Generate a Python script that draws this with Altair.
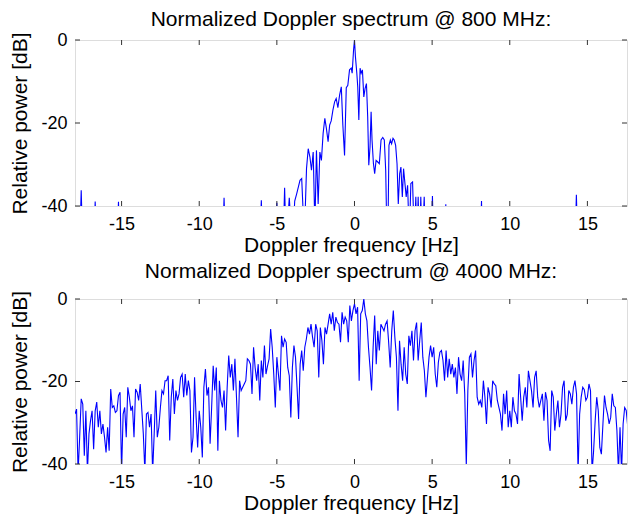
import altair as alt
import pandas as pd

TITLE_TOP = "Normalized Doppler spectrum @ 800 MHz:"
TITLE_BOTTOM = "Normalized Doppler spectrum @ 4000 MHz:"
X_TITLE = "Doppler frequency [Hz]"
Y_TITLE = "Relative power [dB]"
x_ticks = [-15, -10, -5, 0, 5, 10, 15]
y_ticks = [0, -20, -40]

# 800 MHz spectrum (values below -40 dB fall outside the axis)
top_freq = [
    -18.0, -17.7, -17.6, -17.5, -16.8, -16.7, -16.6, -15.3, -15.2, -15.1,
    -8.5, -8.4, -8.3, -6.1, -6.0, -5.9, -5.1, -5.0, -4.9, -4.6,
    -4.5, -4.4, -4.2, -4.0, -3.85,
    -3.72, -3.51, -3.40, -3.23, -3.09, -2.98, -2.87, -2.77, -2.66, -2.55,
    -2.45, -2.34, -2.23, -2.13, -2.02, -1.91, -1.81, -1.70, -1.60, -1.50,
    -1.39, -1.28, -1.18, -1.07, -0.96, -0.85, -0.75, -0.64, -0.53, -0.43,
    -0.32, -0.21, -0.15, -0.06, 0.0, 0.06, 0.15, 0.21, 0.28, 0.36,
    0.43, 0.51, 0.60, 0.68, 0.77, 0.85, 0.92, 1.00, 1.07, 1.13,
    1.22, 1.30, 1.39, 1.50, 1.60, 1.71, 1.82, 1.92, 2.01, 2.09,
    2.16, 2.22, 2.31, 2.39, 2.48, 2.56, 2.65, 2.74, 2.82, 2.91,
    2.99, 3.08, 3.16, 3.25, 3.33, 3.42, 3.53, 3.63, 3.74, 3.85,
    3.95, 4.02, 4.10, 4.19, 4.27, 4.36, 4.49, 4.57,
    4.95, 5.02, 5.10, 5.80, 5.88, 5.95, 8.10, 8.18, 8.25,
    14.20, 14.29, 14.38, 17.85,
]
top_db = [
    -50, -50, -36.2, -50, -50, -38.9, -50, -50, -39.0, -50,
    -50, -38.0, -50, -50, -38.6, -50, -50, -39.2, -50, -50,
    -35.6, -50, -38.0, -50, -38.8,
    -37.0, -33.8, -33.4, -48, -31.0, -26.2, -28.2, -31.4, -27.0, -45,
    -26.6, -39.5, -27.0, -29.0, -22.5, -18.9, -21.3, -24.5, -20.5, -19.5,
    -16.9, -14.9, -14.1, -16.3, -13.3, -11.3, -20.5, -27.8, -11.5, -10.9,
    -7.2, -6.8, -8.0, -2.4, 0.0, -4.0, -8.0, -11.3, -19.3, -6.8,
    -8.0, -7.2, -13.7, -11.7, -10.5, -18.5, -30.2, -25.8, -17.3, -24.1,
    -29.8, -32.2, -29.0, -29.4, -29.8, -24.1, -23.5, -24.1, -31.4, -48,
    -45, -25.4, -24.1, -25.0, -23.7, -24.1, -25.4, -29.8, -39.5, -32.2,
    -30.6, -37.8, -31.0, -34.6, -37.8, -35.0, -48, -34.6, -34.2, -48,
    -37.8, -50, -37.8, -50, -37.8, -50, -37.8, -50,
    -50, -37.6, -50, -50, -39.6, -50, -50, -38.8, -50,
    -50, -37.3, -50, -50,
]

# 4000 MHz spectrum, bins every 0.1 Hz starting at -18 Hz
bottom_start = -18.0
bottom_step = 0.1
bottom_db = [
    -27.9, -26.7, -42, -33.5, -24.2, -25.5, -38, -27.1, -42, -32.7,
    -29.5, -27.1, -36.4, -27.1, -25.0, -31.1, -27.1, -32.7, -30.3, -33.5,
    -37.2, -31.1, -36.8, -21.8, -26.3, -25.9, -27.5, -27.1, -23.4, -22.6,
    -42, -27.9, -26.3, -33.5, -21.4, -23.8, -27.1, -25.9, -33.5, -21.8,
    -22.6, -24.6, -20.6, -26.7, -32.7, -42, -27.9, -27.5, -31.1, -27.9,
    -42, -32.7, -22.2, -33.5, -31.1, -26.3, -22.2, -23.0, -19.8, -19.8,
    -18.6, -34.3, -23.8, -19.4, -27.9, -22.2, -24.6, -23.0, -19.0, -18.2,
    -23.8, -18.2, -23.4, -19.8, -22.2, -37.2, -33.5, -19.0, -28.7, -36.0,
    -27.1, -31.1, -38.4, -21.4, -17.0, -23.4, -21.4, -35.1, -26.3, -16.2,
    -22.2, -16.6, -36.8, -19.8, -24.6, -26.3, -22.2, -31.9, -21.4, -13.7,
    -19.0, -15.8, -22.2, -14.5, -23.8, -33.5, -19.8, -22.2, -21.4, -20.6,
    -19.8, -14.5, -14.9, -15.8, -23.0, -11.7, -16.6, -19.8, -15.8, -24.6,
    -14.9, -19.0, -11.3, -18.2, -16.2, -14.5, -7.3, -11.7, -18.2, -26.3,
    -14.1, -18.2, -22.2, -8.9, -11.7, -9.7, -10.5, -16.6, -18.6, -28.7,
    -16.6, -11.3, -14.1, -21.4, -29.1, -15.8, -12.5, -17.4, -11.7, -9.7,
    -6.9, -8.5, -6.1, -9.3, -11.7, -6.1, -7.7, -19.0, -6.9, -10.1,
    -15.8, -6.9, -8.5, -6.1, -3.6, -6.1, -3.2, -7.7, -4.4, -5.7,
    -6.1, -10.5, -3.2, -6.1, -4.4, -5.3, -10.5, -1.6, -5.3, -2.8,
    -1.2, -3.6, -2.0, -19.8, -3.6, -2.8, 0.0, -3.6, -5.3, -11.7,
    -16.6, -22.2, -11.7, -4.0, -15.8, -7.7, -12.5, -6.1, -6.9, -7.7,
    -6.1, -5.3, -10.5, -16.6, -7.7, -2.8, -9.3, -14.1, -27.1, -10.1,
    -15.8, -19.8, -11.7, -18.2, -20.6, -8.9, -11.3, -7.7, -14.9, -7.7,
    -5.7, -14.9, -10.1, -5.7, -14.1, -17.4, -23.8, -19.0, -14.1, -11.3,
    -14.1, -11.7, -18.2, -21.4, -15.4, -12.9, -12.5, -14.9, -19.8, -12.5,
    -19.0, -14.5, -18.2, -15.8, -19.0, -16.6, -23.0, -14.1, -18.2, -19.8,
    -14.9, -23.0, -40.5, -22.2, -14.1, -13.3, -19.0, -14.9, -12.5, -23.8,
    -25.5, -24.6, -26.3, -19.8, -23.8, -30.3, -21.4, -23.0, -26.3, -19.8,
    -20.6, -21.0, -24.6, -26.3, -27.9, -31.9, -23.0, -27.9, -22.2, -31.1,
    -27.1, -31.1, -23.8, -27.1, -27.9, -30.3, -18.2, -23.8, -29.5, -23.8,
    -21.4, -26.3, -17.4, -19.8, -22.2, -26.3, -19.0, -17.4, -23.8, -26.3,
    -24.6, -23.0, -29.5, -22.6, -24.6, -34.3, -36.8, -22.2, -23.8, -31.9,
    -27.9, -24.6, -31.1, -27.9, -21.4, -19.8, -29.5, -28.0, -22.2, -23.0,
    -25.5, -21.4, -19.8, -23.0, -42, -27.9, -23.8, -21.4, -22.0, -24.6,
    -23.8, -20.6, -22.2, -42, -36.8, -29.5, -23.8, -27.1, -36.0, -37.6,
    -30.3, -23.4, -26.3, -27.9, -30.3, -28.7, -23.0, -25.9, -26.3, -31.9,
    -42, -31.1, -42, -30.3, -26.3, -27.0, -31.0, -26.0, -29.0,
]
bottom_freq = [round(bottom_start + bottom_step * i, 2) for i in range(len(bottom_db))]

FONT = "Liberation Sans"
FRAME = "#333333"
LINE = "#0000ff"
W = 552
X_DOMAIN = [-18, 17.55]
HYPHEN = "datum.value + ''"


def panel(freq, db, title, h, title_offset):
    df = pd.DataFrame({"f": freq, "p": db})
    xs = alt.Scale(domain=X_DOMAIN, nice=False, zero=False)
    ys = alt.Scale(domain=[-40, 0], nice=False, zero=False)
    x_axis = alt.Axis(
        values=x_ticks, title=X_TITLE, ticks=False, tickSize=0, domain=False, grid=False,
        labelFont=FONT, labelFontSize=18, labelColor="black", labelPadding=23,
        labelBaseline="alphabetic", labelFlush=False, labelOverlap=False, labelExpr=HYPHEN,
        titleFont=FONT, titleFontSize=21, titleFontWeight="normal", titleColor="black",
        titleBaseline="alphabetic", titleX=W / 2, titleY=45,
    )
    y_axis = alt.Axis(
        values=y_ticks, title=Y_TITLE, ticks=False, tickSize=0, domain=False, grid=False,
        labelFont=FONT, labelFontSize=18, labelColor="black", labelPadding=8,
        labelFlush=False, labelOverlap=False, labelExpr=HYPHEN,
        titleFont=FONT, titleFontSize=21, titleFontWeight="normal", titleColor="black",
        titleBaseline="alphabetic", titleAngle=270, titleX=-49, titleY=h / 2,
    )
    line = alt.Chart(df).mark_line(color=LINE, strokeWidth=1.1, clip=True).encode(
        x=alt.X("f:Q", scale=xs, axis=x_axis, title=X_TITLE),
        y=alt.Y("p:Q", scale=ys, axis=y_axis, title=Y_TITLE),
    )
    xt = pd.DataFrame({"t": x_ticks})
    yt = pd.DataFrame({"t": y_ticks})
    rule = dict(color=FRAME, strokeWidth=1)
    tick_top = alt.Chart(xt).mark_rule(**rule).encode(
        x=alt.X("t:Q", scale=xs, axis=x_axis, title=X_TITLE), y=alt.value(0), y2=alt.value(5))
    tick_bot = alt.Chart(xt).mark_rule(**rule).encode(
        x=alt.X("t:Q", scale=xs, axis=x_axis, title=X_TITLE), y=alt.value(h - 5), y2=alt.value(h))
    tick_l = alt.Chart(yt).mark_rule(**rule).encode(
        y=alt.Y("t:Q", scale=ys, axis=y_axis, title=Y_TITLE), x=alt.value(0), x2=alt.value(5))
    tick_r = alt.Chart(yt).mark_rule(**rule).encode(
        y=alt.Y("t:Q", scale=ys, axis=y_axis, title=Y_TITLE), x=alt.value(W - 5), x2=alt.value(W))
    return alt.layer(line, tick_top, tick_bot, tick_l, tick_r).properties(
        width=W, height=h,
        title=alt.TitleParams(
            text=title, font=FONT, fontSize=21, fontWeight="normal", color="black",
            anchor="middle", baseline="alphabetic", offset=title_offset,
        ),
    )


chart = alt.vconcat(
    panel(top_freq, top_db, TITLE_TOP, 166, -16),
    panel(bottom_freq, bottom_db, TITLE_BOTTOM, 165, -9),
    spacing=4,
).properties(
    padding={"left": 0, "top": 0, "right": 0, "bottom": 0},
).configure_view(
    stroke=FRAME, strokeWidth=1,
).configure(background="white")

chart.save("out.html", embed_options={"renderer": "svg", "actions": False})
